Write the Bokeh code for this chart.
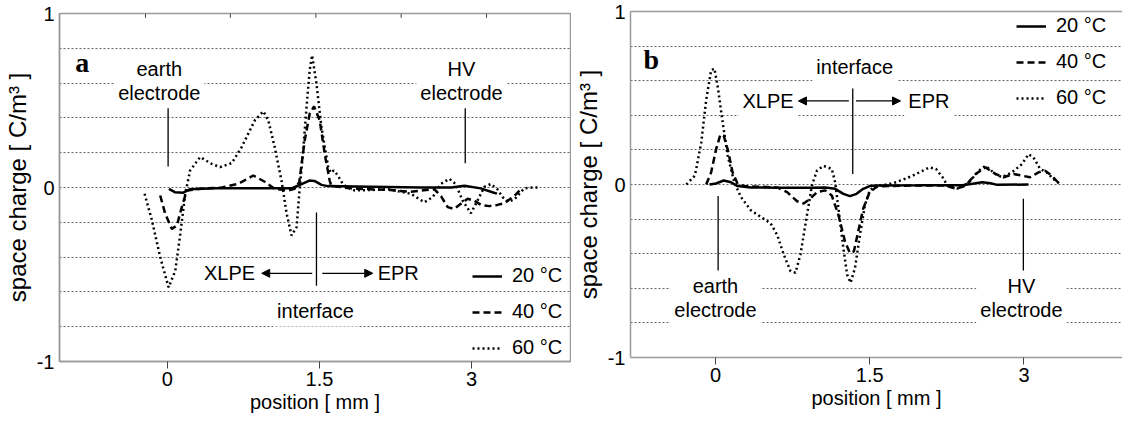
from bokeh.plotting import figure
from bokeh.layouts import row, column
from bokeh.models import FixedTicker, LinearAxis, Label, Arrow, NormalHead, Range1d
from bokeh.embed import file_html
from bokeh.resources import INLINE

FONT = "Liberation Sans"
SERIF = "Liberation Serif"
GRAY = "#9a9a9a"

# ---------------- data ----------------
temps = ["20 \u00b0C", "40 \u00b0C", "60 \u00b0C"]
dashes = ["solid", "7 4", "2 3"]

x_ticks = [0, 1.5, 3]
x_tick_labels = ["0", "1.5", "3"]
y_ticks = [-1, 0, 1]
y_tick_labels = ["-1", "0", "1"]
grid_levels = [-0.8, -0.6, -0.4, -0.2, 0.0, 0.2, 0.4, 0.6, 0.8]

# panel a
a_x_20 = [0.015, 0.073, 0.157, 0.225, 0.47, 0.96, 1.225, 1.323, 1.40, 1.45, 1.52, 1.58, 2.0, 2.5, 2.8, 2.93, 3.09, 3.22, 3.25]
a_y_20 = [-0.008, -0.027, -0.03, -0.01, -0.005, -0.005, -0.005, 0.02, 0.04, 0.038, 0.015, 0.008, 0.005, 0.0, 0.0, 0.01, -0.005, -0.03, -0.035]

a_x_40 = [-0.071, -0.022, 0.044, 0.093, 0.142, 0.191, 0.304, 0.536, 0.70, 0.847, 0.96, 1.058, 1.19, 1.254, 1.30,
          1.354, 1.403, 1.446, 1.502, 1.551, 1.60, 1.617, 1.8, 2.0, 2.2, 2.4, 2.55, 2.632, 2.698, 2.764, 2.828,
          2.894, 2.96, 3.025, 3.092, 3.175, 3.254, 3.322, 3.42, 3.485]
a_y_40 = [-0.046, -0.15, -0.238, -0.219, -0.113, -0.017, -0.008, 0.0, 0.021, 0.069, 0.033, -0.008, -0.017, -0.008, 0.03,
          0.27, 0.424, 0.466, 0.386, 0.194, 0.04, 0.01, -0.005, -0.01, -0.015, -0.025, -0.015, -0.01, -0.05, -0.113, -0.123,
          -0.093, -0.065, -0.075, -0.10, -0.107, -0.10, -0.09, -0.05, -0.01]

a_x_60 = [-0.225, -0.152, -0.071, 0.012, 0.078, 0.127, 0.176, 0.224, 0.323, 0.437, 0.519, 0.634, 0.732, 0.862, 0.946,
          0.995, 1.058, 1.125, 1.176, 1.224, 1.274, 1.303, 1.339, 1.372, 1.403, 1.427, 1.47, 1.519, 1.585, 1.61, 1.64,
          1.68, 1.73, 1.764, 1.846, 1.978, 2.176, 2.401, 2.534, 2.617, 2.698, 2.78, 2.842, 2.911, 2.993, 3.058, 3.126,
          3.19, 3.254, 3.305, 3.36, 3.42, 3.48, 3.52, 3.60, 3.66]
a_y_60 = [-0.036, -0.19, -0.40, -0.574, -0.478, -0.267, -0.036, 0.098, 0.175, 0.136, 0.117, 0.14, 0.232, 0.386, 0.4375,
          0.386, 0.232, 0.04, -0.15, -0.276, -0.228, -0.017, 0.213, 0.462, 0.674, 0.76, 0.597, 0.347, 0.12, 0.085, 0.098,
          0.07, 0.02, 0.005, -0.017, -0.015, -0.01, -0.036, -0.085, -0.055, 0.021, 0.05, 0.02, -0.075, -0.148, -0.075, 0.004,
          0.02, -0.01, -0.055, -0.08, -0.07, -0.03, -0.005, 0.0, 0.0]

# panel b
b_x_20 = [-0.058, 0.006, 0.08, 0.151, 0.215, 0.344, 0.6, 0.922, 1.067, 1.164, 1.244, 1.308, 1.372, 1.437, 1.50, 1.565,
          2.0, 2.4, 2.5, 2.594, 2.675, 2.74, 3.044]
b_y_20 = [0.0, 0.006, 0.023, 0.013, -0.009, -0.017, -0.019, -0.019, -0.017, -0.025, -0.054, -0.067, -0.054, -0.025, -0.009, -0.006,
          -0.005, -0.004, 0.004, 0.013, 0.007, -0.002, 0.0]

b_x_40 = [-0.09, -0.042, 0.006, 0.048, 0.08, 0.119, 0.167, 0.215, 0.28, 0.6, 0.697, 0.794, 0.858, 0.922, 0.987, 1.067,
          1.131, 1.196, 1.26, 1.308, 1.346, 1.388, 1.437, 1.50, 1.565, 1.63, 1.9, 2.24, 2.337, 2.433, 2.53, 2.626, 2.722,
          2.803, 2.9, 2.98, 3.06, 3.141, 3.205, 3.27, 3.33, 3.365]
b_y_40 = [0.0, 0.07, 0.203, 0.289, 0.283, 0.203, 0.07, 0.004, -0.009, -0.017, -0.044, -0.097, -0.11, -0.082, -0.044, -0.034,
          -0.063, -0.177, -0.33, -0.396, -0.387, -0.272, -0.139, -0.044, -0.015, -0.01, -0.006, -0.006, -0.025, -0.006, 0.061, 0.099, 0.061,
          0.042, 0.061, 0.051, 0.042, 0.07, 0.08, 0.051, 0.013, 0.0]

b_x_60 = [-0.283, -0.2, -0.138, -0.09, -0.042, -0.01, 0.022, 0.071, 0.119, 0.183, 0.248, 0.344, 0.44, 0.537, 0.60, 0.665,
          0.73, 0.778, 0.826, 0.89, 0.938, 0.987, 1.05, 1.131, 1.164, 1.196, 1.244, 1.28, 1.314, 1.357, 1.405, 1.453, 1.50,
          1.565, 1.63, 1.758, 1.919, 2.08, 2.144, 2.208, 2.256, 2.369, 2.466, 2.562, 2.626, 2.722, 2.786, 2.883, 2.98, 3.044,
          3.093, 3.157, 3.222, 3.286, 3.349]
b_y_60 = [0.0, 0.051, 0.242, 0.489, 0.661, 0.67, 0.566, 0.356, 0.166, 0.013, -0.073, -0.149, -0.187, -0.225, -0.291, -0.406,
          -0.501, -0.51, -0.406, -0.177, -0.006, 0.08, 0.108, 0.09, 0.013, -0.139, -0.368, -0.52, -0.568, -0.482, -0.291, -0.12, -0.034,
          -0.006, -0.005, 0.013, 0.051, 0.099, 0.09, 0.042, -0.006, -0.025, 0.013, 0.08, 0.108, 0.061, 0.042, 0.07, 0.118, 0.175,
          0.156, 0.09, 0.07, 0.032, 0.004]

# annotations: marker lines (x, y_top, y_bottom)
a_markers = [(0.007, 0.466, 0.121), (2.937, 0.478, 0.14), (1.47, -0.144, -0.564)]
b_markers = [(0.026, -0.067, -0.501), (2.994, -0.082, -0.501), (1.335, 0.555, 0.061)]
# texts (x, y, text)
a_texts = [(-0.08, 0.611, "earth\nelectrode"), (2.90, 0.611, "HV\nelectrode"),
           (0.613, -0.493, "XLPE"), (2.276, -0.493, "EPR"), (1.46, -0.712, "interface")]
b_texts = [(0.0, -0.654, "earth\nelectrode"), (2.975, -0.654, "HV\nelectrode"),
           (0.512, 0.483, "XLPE"), (2.075, 0.483, "EPR"), (1.354, 0.68, "interface")]
# arrows (x_start, x_end, y)
a_arrows = [(1.428, 0.930, -0.493), (1.527, 2.025, -0.493)]
b_arrows = [(1.297, 0.807, 0.483), (1.367, 1.80, 0.483)]
# small inner tick marks along the top edge of panel a (x positions)
a_top_ticks = [-0.216, 0.621, 1.464, 2.305, 3.147]


def style(p):
    p.xgrid.visible = False
    p.ygrid.ticker = FixedTicker(ticks=grid_levels)
    p.ygrid.grid_line_color = "#666666"
    p.ygrid.grid_line_dash = "2 2"
    p.ygrid.grid_line_width = 1
    for ax in (p.xaxis[0], p.yaxis[0]):
        ax.axis_line_color = GRAY
        ax.axis_line_width = 1.5
        ax.major_label_text_font = FONT
        ax.major_label_text_font_size = "20px"
        ax.major_label_text_color = "black"
        ax.axis_label_text_font = FONT
        ax.axis_label_text_font_size = "20px"
        ax.axis_label_text_font_style = "normal"
        ax.axis_label_text_color = "black"
        ax.minor_tick_line_color = None
        ax.major_tick_line_color = "#444444"
    xa = p.xaxis[0]
    xa.ticker = FixedTicker(ticks=x_ticks)
    xa.major_label_overrides = {t: l for t, l in zip(x_ticks, x_tick_labels)}
    xa.major_tick_out = 7
    xa.major_tick_in = 0
    xa.major_label_standoff = 3
    xa.axis_label_standoff = 2
    xa.axis_label = "position [ mm ]"
    ya = p.yaxis[0]
    ya.ticker = FixedTicker(ticks=y_ticks)
    ya.major_label_overrides = {t: l for t, l in zip(y_ticks, y_tick_labels)}
    ya.major_tick_out = 0
    ya.major_tick_in = 0
    ya.major_label_standoff = 5
    ya.axis_label_standoff = 3
    ya.axis_label_text_font_size = "24px"
    ya.axis_label = "space charge [ C/m\u00b3 ]"


def draw(p, xs, ys, markers, texts, arrows, letter, lx, ly):
    for x, y, lab, d in zip(xs, ys, temps, dashes):
        p.line(x, y, line_color="black", line_width=2.5, line_dash=d, legend_label=lab)
    p.segment(x0=[m[0] for m in markers], y0=[m[1] for m in markers],
              x1=[m[0] for m in markers], y1=[m[2] for m in markers],
              line_color="black", line_width=1.3)
    for xs0, xe, y in arrows:
        p.add_layout(Arrow(end=NormalHead(size=8, line_color="black", fill_color="black", line_width=1),
                           x_start=xs0, y_start=y, x_end=xe, y_end=y, line_color="black", line_width=1.3))
    for x, y, t in texts:
        p.add_layout(Label(x=x, y=y, text=t, text_align="center", text_baseline="middle",
                           text_font=FONT, text_font_size="20px", text_color="black",
                           text_line_height=1.1, background_fill_color="white", padding=4))
    p.add_layout(Label(x=lx, y=ly, text=letter, text_align="center", text_baseline="middle",
                       text_font=SERIF, text_font_size="28px", text_font_style="bold", text_color="black"))
    lg = p.legend[0]
    lg.glyph_width = 30
    lg.glyph_height = 20
    lg.label_height = 20
    lg.spacing = 13
    lg.label_standoff = 10
    lg.padding = 0
    lg.margin = 0
    lg.border_line_color = None
    lg.background_fill_alpha = 0
    lg.label_text_font = FONT
    lg.label_text_font_size = "20px"
    lg.label_text_color = "black"


pa = figure(width=571, height=421, x_range=Range1d(-1.064, 3.975), y_range=Range1d(-1, 1),
            title=None, output_backend="svg", toolbar_location=None,
            min_border_left=57, min_border_right=1, min_border_top=13, min_border_bottom=60)
style(pa)
pa.outline_line_color = GRAY
pa.outline_line_width = 1.5
draw(pa, [a_x_20, a_x_40, a_x_60], [a_y_20, a_y_40, a_y_60], a_markers, a_texts, a_arrows, "a", -0.84, 0.72)
pa.segment(x0=a_top_ticks, y0=[1.0] * len(a_top_ticks), x1=a_top_ticks, y1=[0.975] * len(a_top_ticks),
           line_color="#444444", line_width=1)
pa.legend[0].location = (413, 2)

pb = figure(width=551, height=421, x_range=Range1d(-0.826, 3.958), y_range=Range1d(-1, 1),
            title=None, output_backend="svg", toolbar_location=None,
            min_border_left=53, min_border_right=0, min_border_top=11, min_border_bottom=64)
style(pb)
pb.outline_line_color = None
top_b = LinearAxis(ticker=FixedTicker(ticks=[]), major_tick_in=0, major_tick_out=0,
                   major_label_standoff=0, axis_label_standoff=0,
                   axis_line_color=GRAY, axis_line_width=1.5, minor_tick_line_color=None)
pb.add_layout(top_b, "above")
draw(pb, [b_x_20, b_x_40, b_x_60], [b_y_20, b_y_40, b_y_60], b_markers, b_texts, b_arrows, "b", -0.624, 0.722)
pb.legend[0].location = (386, 248)

layout = row(column(pa), column(pb), spacing=0)
open("out.html", "w").write(file_html(layout, INLINE))
